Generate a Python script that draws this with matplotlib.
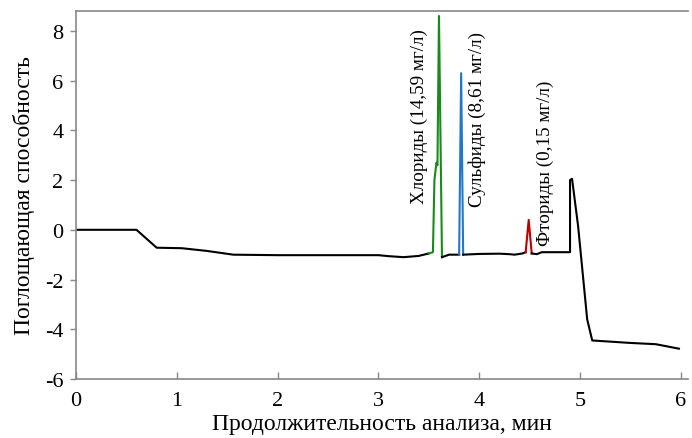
import matplotlib
matplotlib.use("Agg")
import matplotlib.pyplot as plt

plt.rcParams['font.family'] = ['Liberation Serif', 'DejaVu Serif']

# Black baseline trace (time, absorbance)
base1_t = [0.0, 0.6, 0.8, 1.05, 1.3, 1.56, 2.0, 2.5, 3.0, 3.1, 3.25, 3.4, 3.5]
base1_y = [0.0, 0.0, -0.72, -0.74, -0.85, -1.0, -1.02, -1.02, -1.02, -1.06, -1.1, -1.05, -0.95]

# Chloride peak (green)
cl_t = [3.5, 3.54, 3.555, 3.575, 3.585, 3.60, 3.63]
cl_y = [-0.95, -0.9, 2.0, 2.7, 2.6, 8.6, -1.1]

base2_t = [3.63, 3.7, 3.80]
base2_y = [-1.1, -1.0, -1.0]

# Sulfide peak (blue)
s_t = [3.80, 3.82, 3.84]
s_y = [-1.0, 6.3, -1.0]

base3_t = [3.84, 4.0, 4.2, 4.3, 4.35, 4.43, 4.46]
base3_y = [-1.0, -0.97, -0.96, -0.98, -1.0, -0.95, -0.9]

# Fluoride peak (red)
f_t = [4.46, 4.49, 4.52]
f_y = [-0.9, 0.4, -0.95]

base4_t = [4.52, 4.57, 4.62, 4.9, 4.9, 4.92, 4.98, 5.07, 5.12, 5.5, 5.75, 5.98]
base4_y = [-0.95, -0.98, -0.9, -0.9, 2.0, 2.05, 0.15, -3.6, -4.45, -4.55, -4.6, -4.78]

labels = ["Хлориды (14,59 мг/л)", "Сульфиды (8,61 мг/л)", "Фториды (0,15 мг/л)"]
label_x = [3.41, 3.98, 4.66]
label_y = [4.58, 4.46, 2.7]

xticks = [0, 1, 2, 3, 4, 5, 6]
yticks = [-6, -4, -2, 0, 2, 4, 6, 8]

fig = plt.figure(figsize=(6.92, 4.39), dpi=100)
ax = fig.add_axes([76/692, 1 - 380/439, (688-76)/692, (380-12)/439])

lw = 1.5
ax.plot(base1_t, base1_y, color='black', lw=lw)
ax.plot(cl_t, cl_y, color='#1a8a1a', lw=lw)
ax.plot(base2_t, base2_y, color='black', lw=lw)
ax.plot(s_t, s_y, color='#1f78c8', lw=lw)
ax.plot(base3_t, base3_y, color='black', lw=lw)
ax.plot(f_t, f_y, color='#c00000', lw=lw)
ax.plot(base4_t, base4_y, color='black', lw=lw)

for t, x, y in zip(labels, label_x, label_y):
    ax.text(x, y, t, rotation=90, ha='center', va='center', fontsize=13.8)

ax.set_xlim(0, 6.07)
ax.set_ylim(-6, 8.8)
ax.set_xticks(xticks)
ax.set_yticks(yticks)
ax.set_yticklabels([str(v) for v in yticks])
ax.tick_params(labelsize=16, color='#888888', width=1)
ax.tick_params(axis='y', direction='out', length=4, pad=5)
ax.tick_params(axis='x', direction='in', length=5, pad=8.5)
for side in ['left', 'bottom', 'top']:
    ax.spines[side].set_color('#888888')
    ax.spines[side].set_linewidth(1.2)
ax.spines['right'].set_visible(False)

ax.set_xlabel('Продолжительность анализа, мин', fontsize=17, labelpad=2)
ax.set_ylabel('Поглощающая способность', fontsize=17, labelpad=7)

fig.savefig('out.png', dpi=100)
